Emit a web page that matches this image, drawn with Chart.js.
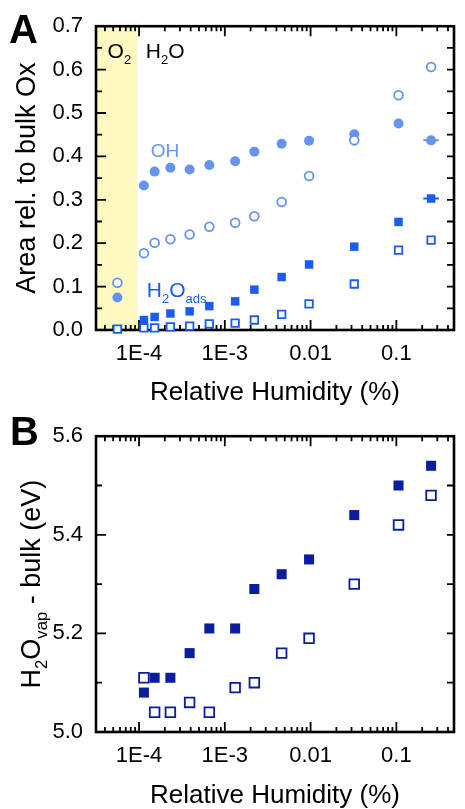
<!DOCTYPE html>
<html>
<head>
<meta charset="utf-8">
<script src="https://cdn.jsdelivr.net/npm/chart.js@4.4.1/dist/chart.umd.min.js"></script>
<style>
  html, body { margin: 0; padding: 0; background: #fff; overflow: hidden; }
  #wrapA { position: absolute; left: 0; top: 0; width: 465px; height: 410px; }
  #wrapB { position: absolute; left: 0; top: 410px; width: 465px; height: 399px; }
</style>
</head>
<body>
<div id="wrapA"><canvas id="chartA"></canvas></div>
<div id="wrapB"><canvas id="chartB"></canvas></div>
<script>
// relative humidity (%) of each measurement
const humidity = [1.14e-4, 1.52e-4, 2.32e-4, 3.89e-4, 6.6e-4, 1.32e-3, 2.21e-3, 4.6e-3, 9.6e-3, 0.0323, 0.106, 0.254];

// panel A: area relative to bulk Ox
const ohFilled  = [0.333, 0.365, 0.374, 0.370, 0.380, 0.389, 0.411, 0.429, 0.436, 0.451, 0.476, 0.437];
const ohOpen    = [0.177, 0.201, 0.209, 0.220, 0.238, 0.247, 0.262, 0.295, 0.355, 0.437, 0.541, 0.606];
const h2oFilled = [0.023, 0.030, 0.038, 0.043, 0.055, 0.066, 0.093, 0.122, 0.151, 0.192, 0.249, 0.303];
const h2oOpen   = [0.005, 0.005, 0.007, 0.009, 0.014, 0.016, 0.023, 0.036, 0.060, 0.106, 0.184, 0.207];

// O2 reference points (drawn in the yellow band)
const o2Pos = 5.6e-5;
const o2OhFilled = 0.075;
const o2OhOpen = 0.109;
const o2H2oOpen = 0.002;
const o2Edge = 9.5e-5;

// x error of the last point
const lastErr = [0.206, 0.313];

// panel B: H2O vap - bulk (eV)
const bindFilled = [5.08, 5.11, 5.11, 5.16, 5.21, 5.21, 5.29, 5.32, 5.35, 5.44, 5.50, 5.54];
const bindOpen   = [5.11, 5.04, 5.04, 5.06, 5.04, 5.09, 5.10, 5.16, 5.19, 5.30, 5.42, 5.48];

// log axis labels
const decadeValues = [1e-4, 1e-3, 1e-2, 1e-1];
const decadeLabels = ['1E-4', '1E-3', '0.01', '0.1'];

const FONT = '"Liberation Sans", Arial, sans-serif';
const lightBlue = '#6494ee';
const midBlue = '#1a5cf2';
const darkBlue = '#0b1d9c';

const xMin = 3.15e-5, xMax = 0.47;

function pairs(xs, ys) {
    return xs.map((x, i) => ({ x: x, y: ys[i] }));
}

function decadeLabel(v) {
    for (let i = 0; i < decadeValues.length; i++) {
        if (Math.abs(Math.log10(v) - Math.log10(decadeValues[i])) < 1e-6) return decadeLabels[i];
    }
    return '';
}

// text with subscripts: parts = [[text, isSub], ...]
function richText(ctx, parts, x, y, size, color, align) {
    ctx.fillStyle = color;
    ctx.textBaseline = 'alphabetic';
    ctx.textAlign = 'left';
    let widths = parts.map(p => {
        ctx.font = (p[1] ? size * 0.62 : size) + 'px ' + FONT;
        return ctx.measureText(p[0]).width;
    });
    let total = widths.reduce((a, b) => a + b, 0);
    let cx = align === 'center' ? x - total / 2 : x;
    parts.forEach((p, i) => {
        ctx.font = (p[1] ? size * 0.62 : size) + 'px ' + FONT;
        ctx.fillText(p[0], cx, y + (p[1] ? size * 0.27 : 0));
        cx += widths[i];
    });
}

// inward ticks on all sides + frame (+ optional band)
const frameTicks = {
    id: 'frameTicks',
    beforeDatasetsDraw(chart, args, opts) {
        const { ctx, chartArea: a } = chart;
        const x = chart.scales.x, y = chart.scales.y;
        ctx.save();
        if (opts.band) {
            const xe = x.getPixelForValue(opts.band);
            ctx.fillStyle = '#fdf9c0';
            ctx.fillRect(a.left, a.top, xe - a.left, a.bottom - a.top);
        }
        ctx.strokeStyle = '#000';
        ctx.lineWidth = 1.8;
        ctx.beginPath();
        for (let e = -6; e <= 0; e++) {
            for (let m = 1; m <= 9; m++) {
                const v = m * Math.pow(10, e);
                if (v < x.min || v > x.max) continue;
                const px = x.getPixelForValue(v);
                const len = m === 1 ? 10 : 5;
                ctx.moveTo(px, a.bottom); ctx.lineTo(px, a.bottom - len);
                ctx.moveTo(px, a.top); ctx.lineTo(px, a.top + len);
            }
        }
        const n = Math.round((y.max - y.min) / opts.minorStep);
        for (let i = 0; i <= n; i++) {
            const py = y.getPixelForValue(y.min + i * opts.minorStep);
            const len = i % 2 === 0 ? 10 : 6;
            ctx.moveTo(a.left, py); ctx.lineTo(a.left + len, py);
            ctx.moveTo(a.right, py); ctx.lineTo(a.right - 7, py);
        }
        ctx.stroke();
        ctx.lineWidth = 2.6;
        ctx.strokeRect(a.left, a.top, a.right - a.left, a.bottom - a.top);
        ctx.restore();
    }
};

// text annotations and panel letters
const notes = {
    id: 'notes',
    afterDatasetsDraw(chart, args, opts) {
        const ctx = chart.ctx;
        const x = chart.scales.x, y = chart.scales.y;
        ctx.save();
        ctx.fillStyle = '#000';
        ctx.font = 'bold 40px ' + FONT;
        ctx.textAlign = 'left';
        ctx.textBaseline = 'alphabetic';
        ctx.fillText(opts.letter, opts.letterPos[0], opts.letterPos[1]);
        (opts.items || []).forEach(it => {
            richText(ctx, it.parts, x.getPixelForValue(it.x), y.getPixelForValue(it.y), it.size, it.color, 'left');
        });
        if (opts.yTitle) {
            const a = chart.chartArea;
            ctx.translate(opts.yTitleX, (a.top + a.bottom) / 2);
            ctx.rotate(-Math.PI / 2);
            richText(ctx, opts.yTitle, 0, 0, 27, '#000', 'center');
        }
        ctx.restore();
    }
};

function xScale(height, titlePad) {
    return {
        type: 'logarithmic',
        min: xMin,
        max: xMax,
        grid: { display: false, drawTicks: false },
        border: { display: false },
        ticks: {
            autoSkip: false,
            maxRotation: 0,
            padding: 11,
            color: '#000',
            font: { family: FONT, size: 22 },
            callback: v => decadeLabel(v)
        },
        title: {
            display: true,
            text: 'Relative Humidity (%)',
            color: '#000',
            font: { family: FONT, size: 26, lineHeight: 1 },
            padding: { top: 0, bottom: titlePad }
        },
        afterFit: s => { s.height = height; }
    };
}

function yTicks(step) {
    return {
        stepSize: step,
        padding: 13,
        color: '#000',
        font: { family: FONT, size: 22 },
        callback: v => Number(v).toFixed(1)
    };
}

const filledCircle = { pointStyle: 'circle', pointRadius: 5, borderWidth: 0, backgroundColor: lightBlue, borderColor: lightBlue, clip: false };
const openCircle = { pointStyle: 'circle', pointRadius: 4.4, borderWidth: 1.8, backgroundColor: '#fff', borderColor: lightBlue, clip: false };
const filledSquareA = { pointStyle: 'rect', pointRadius: 6, borderWidth: 0, backgroundColor: midBlue, borderColor: midBlue, clip: false };
const openSquareA = { pointStyle: 'rect', pointRadius: 5.3, borderWidth: 1.8, backgroundColor: '#fff', borderColor: midBlue, clip: false };

new Chart(document.getElementById('chartA'), {
    type: 'scatter',
    data: {
        datasets: [
            { ...openCircle, data: pairs(humidity, ohOpen) },
            { ...openCircle, data: [{ x: o2Pos, y: o2OhOpen }] },
            { ...filledCircle, data: pairs(humidity, ohFilled) },
            { ...filledCircle, data: [{ x: o2Pos, y: o2OhFilled }] },
            { ...openSquareA, data: pairs(humidity, h2oOpen) },
            { ...openSquareA, data: [{ x: o2Pos, y: o2H2oOpen }] },
            { ...filledSquareA, data: pairs(humidity, h2oFilled) },
            { type: 'line', data: lastErr.map(v => ({ x: v, y: ohFilled[ohFilled.length - 1] })), borderColor: lightBlue, borderWidth: 2, pointRadius: 0 },
            { type: 'line', data: lastErr.map(v => ({ x: v, y: h2oFilled[h2oFilled.length - 1] })), borderColor: midBlue, borderWidth: 2, pointRadius: 0 }
        ]
    },
    options: {
        responsive: true,
        maintainAspectRatio: false,
        animation: false,
        layout: { padding: { top: 23, right: 3, left: 0, bottom: 0 } },
        plugins: {
            legend: { display: false },
            tooltip: { enabled: false },
            frameTicks: { band: o2Edge, minorStep: 0.05 },
            notes: {
                letter: 'A',
                letterPos: [9, 43],
                items: [
                    { parts: [['O', false], ['2', true]], x: 4.3e-5, y: 0.627, size: 21, color: '#000' },
                    { parts: [['H', false], ['2', true], ['O', false]], x: 1.2e-4, y: 0.627, size: 21, color: '#000' },
                    { parts: [['OH', false]], x: 1.37e-4, y: 0.399, size: 19, color: lightBlue },
                    { parts: [['H', false], ['2', true], ['O', false], ['ads', true]], x: 1.23e-4, y: 0.075, size: 21, color: midBlue }
                ]
            }
        },
        scales: {
            x: xScale(80, 4),
            y: {
                min: 0,
                max: 0.7,
                grid: { display: false, drawTicks: false },
                border: { display: false },
                ticks: yTicks(0.1),
                title: {
                    display: true,
                    text: 'Area rel. to bulk Ox',
                    color: '#000',
                    font: { family: FONT, size: 27, lineHeight: 1 },
                    padding: { top: 14, bottom: 0 }
                },
                afterFit: s => { s.width = 96; }
            }
        }
    },
    plugins: [frameTicks, notes]
});

new Chart(document.getElementById('chartB'), {
    type: 'scatter',
    data: {
        datasets: [
            { pointStyle: 'rect', pointRadius: 6.8, borderWidth: 1.8, backgroundColor: '#fff', borderColor: darkBlue, clip: false, data: pairs(humidity, bindOpen) },
            { pointStyle: 'rect', pointRadius: 7.1, borderWidth: 0, backgroundColor: darkBlue, borderColor: darkBlue, clip: false, data: pairs(humidity, bindFilled) }
        ]
    },
    options: {
        responsive: true,
        maintainAspectRatio: false,
        animation: false,
        layout: { padding: { top: 15, right: 3, left: 0, bottom: 0 } },
        plugins: {
            legend: { display: false },
            tooltip: { enabled: false },
            frameTicks: { minorStep: 0.1 },
            notes: {
                letter: 'B',
                letterPos: [10, 35],
                yTitleX: 40,
                yTitle: [['H', false], ['2', true], ['O', false], ['vap', true], [' - bulk (eV)', false]]
            }
        },
        scales: {
            x: xScale(77, 0),
            y: {
                min: 5.0,
                max: 5.6,
                grid: { display: false, drawTicks: false },
                border: { display: false },
                ticks: yTicks(0.2),
                afterFit: s => { s.width = 96; }
            }
        }
    },
    plugins: [frameTicks, notes]
});
</script>
</body>
</html>
